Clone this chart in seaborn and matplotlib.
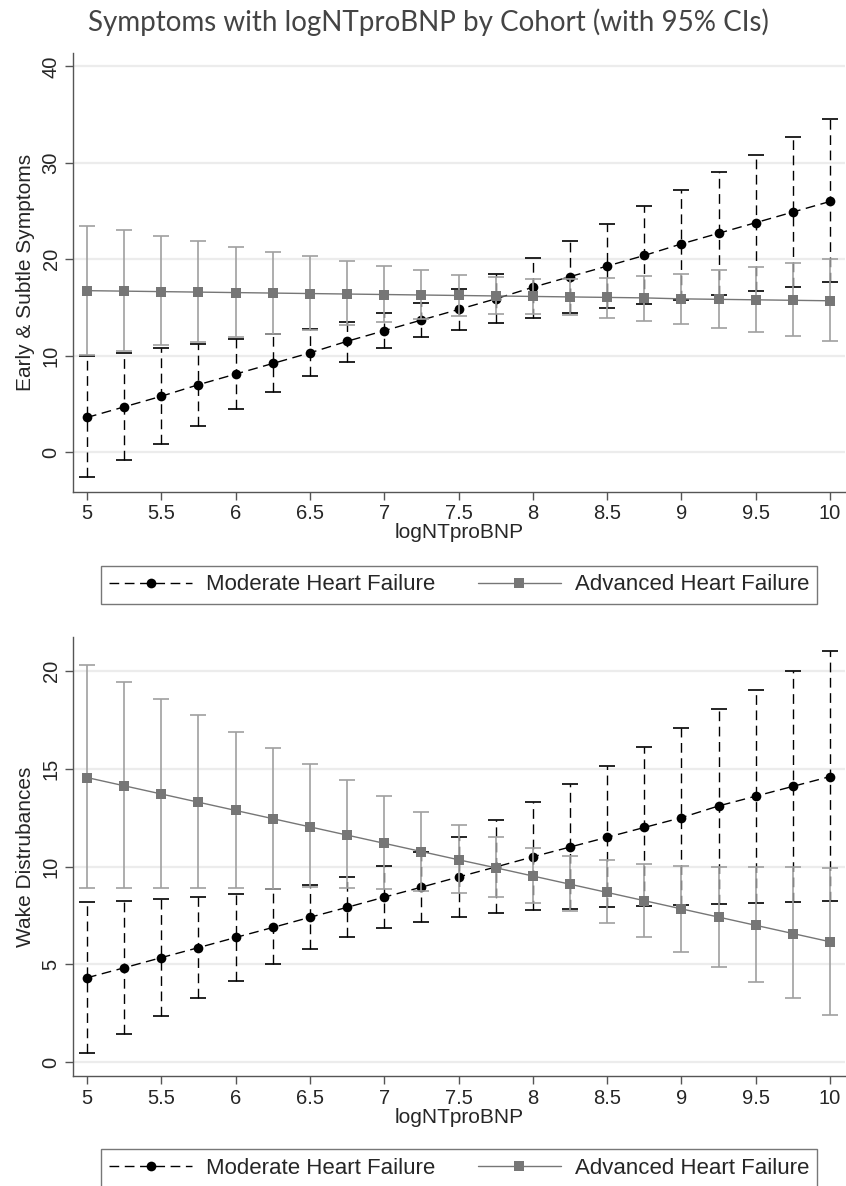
import matplotlib
matplotlib.use("Agg")
import matplotlib.pyplot as plt
import seaborn as sns
import numpy as np
import pandas as pd

# x grid (logNTproBNP)
lognt = [5, 5.25, 5.5, 5.75, 6, 6.25, 6.5, 6.75, 7, 7.25, 7.5,
         7.75, 8, 8.25, 8.5, 8.75, 9, 9.25, 9.5, 9.75, 10]

# Early & Subtle Symptoms
early_mod = [3.6, 4.7, 5.8, 7.0, 8.1, 9.2, 10.3, 11.5, 12.6, 13.7, 14.8,
             15.9, 17.1, 18.2, 19.3, 20.4, 21.6, 22.7, 23.8, 24.9, 26.0]
early_mod_lo = [-2.6, -0.8, 0.9, 2.7, 4.5, 6.2, 7.9, 9.4, 10.8, 11.9, 12.7,
                13.4, 13.9, 14.4, 14.9, 15.4, 15.8, 16.3, 16.7, 17.1, 17.6]
early_mod_hi = [10.0, 10.3, 10.8, 11.2, 11.7, 12.3, 12.8, 13.5, 14.4, 15.5, 16.9,
                18.5, 20.1, 21.9, 23.7, 25.5, 27.2, 29.0, 30.8, 32.7, 34.5]
early_adv = [16.75, 16.7, 16.65, 16.6, 16.55, 16.5, 16.45, 16.4, 16.35, 16.3, 16.25,
             16.2, 16.15, 16.1, 16.05, 16.0, 15.9, 15.85, 15.8, 15.75, 15.7]
early_adv_lo = [10.1, 10.5, 11.1, 11.4, 11.9, 12.3, 12.7, 13.2, 13.5, 13.8, 14.1,
                14.3, 14.3, 14.2, 13.9, 13.6, 13.3, 12.9, 12.5, 12.0, 11.5]
early_adv_hi = [23.5, 23.0, 22.4, 21.9, 21.3, 20.8, 20.3, 19.8, 19.3, 18.9, 18.4,
                18.2, 18.0, 18.0, 18.1, 18.3, 18.5, 18.9, 19.2, 19.6, 20.0]

# Wake Disturbances
wake_mod = [4.32, 4.83, 5.35, 5.86, 6.38, 6.89, 7.41, 7.92, 8.44, 8.95, 9.47,
            9.98, 10.5, 11.0, 11.5, 12.0, 12.5, 13.1, 13.6, 14.1, 14.6]
wake_mod_lo = [0.46, 1.43, 2.38, 3.3, 4.17, 5.02, 5.77, 6.39, 6.85, 7.19, 7.44,
               7.61, 7.78, 7.82, 7.92, 8.0, 8.05, 8.09, 8.16, 8.19, 8.24]
wake_mod_hi = [8.17, 8.26, 8.34, 8.46, 8.6, 8.84, 9.06, 9.48, 10.05, 10.75, 11.53,
               12.38, 13.32, 14.22, 15.16, 16.11, 17.07, 18.04, 19.02, 20.01, 21.0]
wake_adv = [14.55, 14.13, 13.71, 13.29, 12.87, 12.45, 12.03, 11.61, 11.19, 10.77, 10.35,
            9.94, 9.52, 9.10, 8.68, 8.26, 7.84, 7.42, 7.00, 6.58, 6.16]
wake_adv_lo = [8.89, 8.89, 8.89, 8.89, 8.92, 8.87, 8.96, 8.9, 8.84, 8.75, 8.64,
               8.46, 8.12, 7.73, 7.1, 6.42, 5.65, 4.89, 4.09, 3.27, 2.42]
wake_adv_hi = [20.3, 19.45, 18.58, 17.73, 16.86, 16.06, 15.23, 14.41, 13.61, 12.81, 12.13,
               11.53, 10.93, 10.56, 10.34, 10.13, 10.05, 10.0, 9.98, 9.96, 9.91]

labels = ['Moderate Heart Failure', 'Advanced Heart Failure']

sns.set_theme(style='white')
plt.rcParams['font.family'] = ['Liberation Sans', 'DejaVu Sans']

DASH = (0, (7, 4))
MOD_C = 'black'
ADV_C = '#767676'
ADV_BAR = '#a0a0a0'


def draw_panel(ax, mod, mod_lo, mod_hi, adv, adv_lo, adv_hi, ylabel, yticks, ylim):
    x = np.array(lognt)
    # moderate CIs (dashed)
    m = np.array(mod)
    eb = ax.errorbar(x, m, yerr=[m - np.array(mod_lo), np.array(mod_hi) - m],
                     fmt='none', ecolor=MOD_C, elinewidth=1.0, capsize=6,
                     capthick=1.2, zorder=2)
    eb[2][0].set_linestyle(DASH)
    df_m = pd.DataFrame({'x': x, 'y': m})
    sns.lineplot(data=df_m, x='x', y='y', ax=ax, color=MOD_C, linestyle=DASH,
                 linewidth=1.0, marker='o', markersize=7, markeredgewidth=0,
                 label=labels[0], zorder=3)
    # advanced CIs (solid, grey)
    a = np.array(adv)
    ax.errorbar(x, a, yerr=[a - np.array(adv_lo), np.array(adv_hi) - a],
                fmt='none', ecolor=ADV_BAR, elinewidth=1.2, capsize=6,
                capthick=1.2, zorder=4)
    df_a = pd.DataFrame({'x': x, 'y': a})
    sns.lineplot(data=df_a, x='x', y='y', ax=ax, color=ADV_C, linestyle='-',
                 linewidth=1.0, marker='s', markersize=6.5, markeredgewidth=0,
                 label=labels[1], zorder=5)
    if ax.get_legend() is not None:
        ax.get_legend().remove()

    ax.set_xlim(4.906, 10.10)
    ax.set_ylim(*ylim)
    ax.set_xticks([5, 5.5, 6, 6.5, 7, 7.5, 8, 8.5, 9, 9.5, 10])
    ax.set_xticklabels(['5', '5.5', '6', '6.5', '7', '7.5', '8', '8.5', '9', '9.5', '10'])
    ax.set_yticks(yticks)
    ax.yaxis.grid(True, color='#ececec', linewidth=1.6)
    ax.xaxis.grid(False)
    ax.set_axisbelow(True)
    for s in ['top', 'right']:
        ax.spines[s].set_visible(False)
    for s in ['left', 'bottom']:
        ax.spines[s].set_color('#555555')
        ax.spines[s].set_linewidth(1.0)
    ax.tick_params(axis='both', which='major', direction='out', length=6,
                   width=1.0, color='#555555', labelsize=14.5, pad=3,
                   left=True, bottom=True)
    ax.tick_params(axis='y', labelrotation=90)
    for t in ax.get_yticklabels():
        t.set_va('center')
    ax.set_xlabel('logNTproBNP', fontsize=15, labelpad=0)
    ax.set_ylabel(ylabel, fontsize=15, labelpad=5)


fig = plt.figure(figsize=(8.46, 11.86), dpi=100)
ax1 = fig.add_axes([0.0863, 0.5852, 0.9125, 0.3702])
ax2 = fig.add_axes([0.0863, 0.0927, 0.9125, 0.3702])

draw_panel(ax1, early_mod, early_mod_lo, early_mod_hi,
           early_adv, early_adv_lo, early_adv_hi,
           'Early & Subtle Symptoms', [0, 10, 20, 30, 40], (-4.12, 41.4))
draw_panel(ax2, wake_mod, wake_mod_lo, wake_mod_hi,
           wake_adv, wake_adv_lo, wake_adv_hi,
           'Wake Distrubances', [0, 5, 10, 15, 20], (-0.7, 21.73))

handles, labs = ax1.get_legend_handles_labels()
for yc in [1 - 585 / 1186, 1 - 1168 / 1186]:
    leg = fig.legend(handles, labs, loc='center', ncol=2,
                     bbox_to_anchor=(459 / 846, yc),
                     fontsize=16, handlelength=3.75, columnspacing=1.9,
                     handletextpad=0.62, borderpad=0.38, borderaxespad=0,
                     frameon=True, fancybox=False, edgecolor='#555555')
    leg.get_frame().set_linewidth(1.0)

fig.text(0.506, 1 - 22 / 1186, 'Symptoms with logNTproBNP by Cohort (with 95% CIs)',
         ha='center', va='center', fontsize=20, color='#444444',
         family=['Lato', 'DejaVu Sans'])

fig.savefig('out.png', dpi=100)
